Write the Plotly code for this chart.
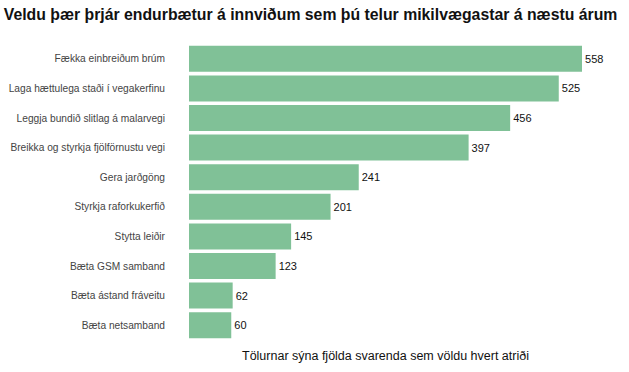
import plotly.graph_objects as go

categories = [
    "Fækka einbreiðum brúm",
    "Laga hættulega staði í vegakerfinu",
    "Leggja bundið slitlag á malarvegi",
    "Breikka og styrkja fjölförnustu vegi",
    "Gera jarðgöng",
    "Styrkja raforkukerfið",
    "Stytta leiðir",
    "Bæta GSM samband",
    "Bæta ástand fráveitu",
    "Bæta netsamband",
]
values = [558, 525, 456, 397, 241, 201, 145, 123, 62, 60]

title_text = "Veldu þær þrjár endurbætur á innviðum sem þú telur mikilvægastar á næstu árum"
axis_note = "Tölurnar sýna fjölda svarenda sem völdu hvert atriði"

fig = go.Figure(
    go.Bar(
        x=values,
        y=categories,
        orientation="h",
        marker=dict(color="#80c197", line=dict(width=0)),
        text=[str(v) for v in values],
        textposition="outside",
        textfont=dict(color="#111111", size=11, family="Liberation Sans, Arial, sans-serif"),
        cliponaxis=False,
    )
)

fig.update_layout(
    width=629,
    height=372,
    paper_bgcolor="white",
    plot_bgcolor="white",
    margin=dict(l=189, r=47, t=44, b=32),
    bargap=0.12,
    showlegend=False,
    font=dict(family="Liberation Sans, Arial, sans-serif", size=11, color="#444444"),
    title=dict(
        text=title_text,
        x=0.006,
        xanchor="left",
        y=0.962,
        yanchor="middle",
        font=dict(size=15.8, color="#111111", family="Liberation Sans, Arial, sans-serif", weight="bold"),
    ),
    xaxis=dict(
        range=[0, 558],
        showgrid=False,
        zeroline=False,
        showticklabels=False,
        ticks="",
        showline=False,
        fixedrange=True,
        automargin=False,
    ),
    yaxis=dict(
        autorange="reversed",
        showgrid=False,
        zeroline=False,
        ticks="",
        ticklabelstandoff=23,
        tickfont=dict(size=10.2, color="#444444"),
        showline=False,
        automargin=False,
        fixedrange=True,
    ),
    annotations=[
        dict(
            text=axis_note,
            x=0.5,
            xref="paper",
            y=-0.022,
            yref="paper",
            xanchor="center",
            yanchor="top",
            showarrow=False,
            font=dict(size=12.5, color="#111111"),
        )
    ],
)

fig.write_html(
    "out.html",
    config={"displayModeBar": False},
    post_script="document.body.style.margin='0';document.body.style.overflow='hidden';",
)
